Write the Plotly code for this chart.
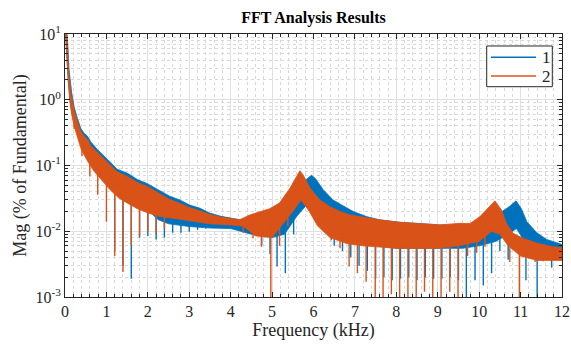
import plotly.graph_objects as go

# ---------------- data ----------------
# Series 1 (blue): upper envelope of the dense spectrum
s1_top_f = [0.0, 0.03, 0.06, 0.10, 0.16, 0.22, 0.30, 0.38, 0.46, 0.54,
            0.62, 0.78, 1.02, 1.26, 1.51, 1.75, 1.99, 2.23, 2.53, 2.77,
            3.01, 3.25, 3.49, 3.74, 3.98, 4.22, 4.46, 4.70, 4.95, 5.20,
            5.45, 5.62, 5.78, 5.95, 6.05, 6.23, 6.47, 6.71, 6.96, 7.28,
            7.60, 8.08, 8.57, 9.05, 9.53, 10.02, 10.26, 10.50, 10.74, 10.89,
            11.02, 11.15, 11.39, 11.63, 11.95, 12.0]
s1_top_v = [14, 12, 8.5, 2.8, 1.3, 0.78, 0.52, 0.37, 0.31, 0.28,
            0.23, 0.175, 0.125, 0.088, 0.076, 0.061, 0.053, 0.043, 0.034, 0.030,
            0.025, 0.0225, 0.019, 0.017, 0.016, 0.015, 0.014, 0.0155, 0.018, 0.024,
            0.032, 0.043, 0.058, 0.071, 0.063, 0.043, 0.030, 0.0245, 0.020, 0.0167,
            0.0149, 0.0137, 0.013, 0.0125, 0.0122, 0.0122, 0.015, 0.019, 0.024, 0.029,
            0.022, 0.014, 0.0095, 0.0075, 0.0064, 0.0063]
# Series 1: lower edge of the band body
s1_low_f = [0.0, 0.04, 0.08, 0.12, 0.16, 0.22, 0.30, 0.40, 0.55, 0.70,
            0.90, 1.10, 1.30, 1.50, 1.75, 2.00, 2.25, 2.50, 3.00, 3.50,
            4.00, 4.50, 5.00, 5.30, 5.60, 5.90, 6.10, 6.40, 6.80, 7.20,
            8.00, 9.00, 9.60, 10.00, 10.40, 10.70, 10.90, 11.10, 11.40, 11.70,
            12.0]
s1_low_v = [14, 7, 2.0, 1.0, 0.7, 0.45, 0.3, 0.19, 0.13, 0.095,
            0.065, 0.048, 0.036, 0.03, 0.025, 0.021, 0.015, 0.013, 0.0118, 0.0112,
            0.011, 0.009, 0.008, 0.009, 0.017, 0.028, 0.022, 0.013, 0.0085, 0.0065,
            0.0055, 0.0055, 0.0055, 0.006, 0.007, 0.009, 0.011, 0.007, 0.0042, 0.0038,
            0.0037]
# Series 1: deep notches (frequency, band level, notch bottom)
s1_dip_f = [1.20, 1.40, 1.60, 1.80, 2.00, 2.20, 2.40, 2.60, 2.80, 3.00,
            3.20, 3.40, 3.60, 3.80, 4.75, 4.95, 5.12, 5.32, 5.52, 6.50,
            6.70, 6.90, 7.10, 7.30, 7.50, 7.70, 7.90, 8.10, 8.30, 8.50,
            8.70, 8.90, 9.10, 9.30, 9.50, 9.69, 9.90, 10.10, 10.30, 10.50,
            10.70, 11.13, 11.40, 11.55, 11.75, 11.95]
s1_dip_hi = [0.055, 0.045, 0.038, 0.032, 0.028, 0.025, 0.022, 0.02, 0.018, 0.017,
             0.016, 0.015, 0.0145, 0.014, 0.011, 0.012, 0.014, 0.016, 0.022, 0.016,
             0.013, 0.011, 0.01, 0.009, 0.008, 0.008, 0.008, 0.008, 0.008, 0.008,
             0.008, 0.008, 0.008, 0.008, 0.008, 0.008, 0.008, 0.009, 0.01, 0.012,
             0.014, 0.01, 0.007, 0.006, 0.0055, 0.005]
s1_dip_lo = [0.005, 0.003, 0.0019, 0.008, 0.0085, 0.0075, 0.008, 0.0095, 0.0095, 0.0098,
             0.0105, 0.011, 0.0115, 0.012, 0.006, 0.0045, 0.0029, 0.0023, 0.009, 0.006,
             0.005, 0.004, 0.003, 0.0025, 0.0019, 0.002, 0.0018, 0.0019, 0.002, 0.0018,
             0.002, 0.0019, 0.0019, 0.002, 0.0018, 0.00095, 0.0018, 0.0015, 0.0023, 0.005,
             0.0037, 0.0018, 0.00095, 0.0035, 0.0028, 0.004]

# Series 2 (orange)
s2_top_f = [0.0, 0.03, 0.05, 0.09, 0.15, 0.22, 0.30, 0.38, 0.46, 0.54,
            0.62, 0.78, 1.02, 1.26, 1.51, 1.75, 1.99, 2.23, 2.50, 2.75,
            3.00, 3.25, 3.50, 3.75, 4.00, 4.22, 4.46, 4.70, 4.94, 5.18,
            5.43, 5.59, 5.67, 5.75, 5.91, 6.15, 6.40, 6.64, 6.88, 7.12,
            7.60, 8.08, 8.57, 9.05, 9.53, 9.78, 10.02, 10.18, 10.38, 10.54,
            10.66, 10.82, 11.06, 11.39, 11.71, 12.0]
s2_top_v = [14, 12, 9, 2.5, 1.15, 0.7, 0.46, 0.33, 0.28, 0.25,
            0.2, 0.158, 0.112, 0.08, 0.068, 0.055, 0.048, 0.039, 0.031, 0.027,
            0.023, 0.0205, 0.018, 0.0165, 0.0155, 0.015, 0.0177, 0.020, 0.022, 0.027,
            0.045, 0.068, 0.083, 0.072, 0.046, 0.030, 0.0236, 0.020, 0.0177, 0.0167,
            0.0149, 0.0137, 0.013, 0.0125, 0.0132, 0.0131, 0.0167, 0.021, 0.029, 0.021,
            0.0131, 0.0093, 0.0078, 0.0066, 0.0059, 0.0056]
s2_low_f = [0.0, 0.04, 0.08, 0.12, 0.16, 0.22, 0.30, 0.40, 0.55, 0.70,
            0.90, 1.10, 1.30, 1.50, 1.75, 2.00, 2.25, 2.50, 3.00, 3.50,
            4.00, 4.30, 4.60, 5.00, 5.30, 5.50, 5.70, 5.90, 6.10, 6.40,
            6.80, 7.20, 8.00, 9.00, 9.50, 10.00, 10.30, 10.50, 10.70, 11.00,
            11.40, 12.0]
s2_low_v = [14, 7, 1.8, 0.9, 0.6, 0.4, 0.27, 0.17, 0.115, 0.082,
            0.058, 0.042, 0.032, 0.027, 0.022, 0.019, 0.017, 0.016, 0.0145, 0.013,
            0.0125, 0.012, 0.0085, 0.008, 0.014, 0.02, 0.03, 0.02, 0.012, 0.008,
            0.0065, 0.006, 0.0055, 0.0055, 0.006, 0.007, 0.01, 0.009, 0.006, 0.0042,
            0.0036, 0.0036]
s2_dip_f = [0.22, 0.41, 0.60, 0.79, 1.00, 1.20, 1.40, 1.60, 1.80, 2.00,
            2.20, 2.40, 4.30, 4.54, 4.74, 4.97, 5.18, 5.38, 6.22, 6.43,
            6.64, 6.86, 7.06, 7.27, 7.49, 7.68, 7.88, 8.08, 8.28, 8.48,
            8.68, 8.88, 9.08, 9.29, 9.49, 9.72, 9.94, 10.14, 10.74, 10.97,
            11.15, 11.35, 11.55, 11.75, 11.95]
s2_dip_hi = [0.5, 0.25, 0.15, 0.1, 0.07, 0.05, 0.04, 0.035, 0.03, 0.027,
             0.024, 0.022, 0.013, 0.013, 0.013, 0.013, 0.016, 0.022, 0.018, 0.013,
             0.011, 0.01, 0.009, 0.008, 0.008, 0.008, 0.008, 0.008, 0.008, 0.008,
             0.008, 0.008, 0.008, 0.008, 0.008, 0.008, 0.009, 0.011, 0.009, 0.006,
             0.0055, 0.005, 0.0048, 0.0046, 0.0045]
s2_dip_lo = [0.36, 0.14, 0.068, 0.036, 0.014, 0.0042, 0.0024, 0.006, 0.0085, 0.010,
             0.009, 0.011, 0.0095, 0.0078, 0.0058, 0.00095, 0.006, 0.012, 0.0118, 0.0073,
             0.0055, 0.0029, 0.0023, 0.0017, 0.00095, 0.00095, 0.0011, 0.00095, 0.001, 0.00095,
             0.0012, 0.00095, 0.001, 0.0012, 0.00095, 0.0042, 0.0047, 0.0058, 0.0034, 0.00095,
             0.0042, 0.0034, 0.0042, 0.0038, 0.0042]

series_names = ["1", "2"]
colors = ["#0072BD", "#D95319"]
x_ticks = [0, 1, 2, 3, 4, 5, 6, 7, 8, 9, 10, 11, 12]
y_ticks = [0.001, 0.01, 0.1, 1, 10]
y_ticktext = ["10<sup>-3</sup>", "10<sup>-2</sup>", "10<sup>-1</sup>",
              "10<sup>0</sup>", "10<sup>1</sup>"]

FONT = "Liberation Serif"
INK = "#262626"

fig = go.Figure()

series = [
    (s1_top_f, s1_top_v, s1_low_f, s1_low_v, s1_dip_f, s1_dip_hi, s1_dip_lo),
    (s2_top_f, s2_top_v, s2_low_f, s2_low_v, s2_dip_f, s2_dip_hi, s2_dip_lo),
]

for (tf, tv, lf, lv, df, dh, dl), name, col in zip(series, series_names, colors):
    fig.add_trace(go.Scatter(
        x=list(tf) + list(lf)[::-1], y=list(tv) + list(lv)[::-1],
        mode="lines", fill="toself", fillcolor=col, name=name,
        line=dict(color=col, width=0.8), hoverinfo="skip", showlegend=False))
    xs, ys = [], []
    for f, h, l in zip(df, dh, dl):
        xs += [f, f, None]
        ys += [h, l, None]
    fig.add_trace(go.Scatter(x=xs, y=ys, mode="lines", name=name,
                             line=dict(color=col, width=1.4),
                             hoverinfo="skip", showlegend=False))

fig.update_xaxes(
    range=[0, 12], tickvals=x_ticks, ticktext=[str(t) for t in x_ticks],
    ticks="inside", ticklen=5, tickcolor=INK, mirror="allticks",
    showline=True, linecolor=INK, linewidth=1, zeroline=False, automargin=False,
    showgrid=True, gridcolor="#e0e0e0", gridwidth=1,
    minor=dict(dtick=0.2, tick0=0, ticks="inside", ticklen=3, tickcolor=INK,
               showgrid=True, gridcolor="#d8d8d8", griddash="dot", gridwidth=1),
    tickfont=dict(family=FONT, size=16, color=INK), ticklabeloverflow="allow",
    title=dict(text="Frequency (kHz)", font=dict(family=FONT, size=18, color=INK),
               standoff=2),
)
fig.update_yaxes(
    type="log", range=[-3, 1], tickvals=y_ticks, ticktext=y_ticktext,
    ticks="inside", ticklen=5, tickcolor=INK, mirror="allticks",
    showline=True, linecolor=INK, linewidth=1, zeroline=False, automargin=False,
    showgrid=True, gridcolor="#e0e0e0", gridwidth=1,
    minor=dict(dtick="D1", ticks="inside", ticklen=3, tickcolor=INK,
               showgrid=True, gridcolor="#d8d8d8", griddash="dot", gridwidth=1),
    tickfont=dict(family=FONT, size=16, color=INK),
    title=dict(text="Mag (% of Fundamental)", font=dict(family=FONT, size=18, color=INK),
               standoff=4),
)

# legend box drawn in the plot's paper coordinates (MATLAB-style compact legend)
leg_shapes = [dict(type="rect", xref="paper", yref="paper",
                   x0=0.8485, x1=0.9805, y0=0.7996, y1=0.9544,
                   line=dict(color=INK, width=1), fillcolor="white", layer="above")]
leg_annots = []
for name, col, ly in zip(series_names, colors, [0.9114, 0.8403]):
    leg_shapes.append(dict(type="line", xref="paper", yref="paper",
                           x0=0.8571, x1=0.9477, y0=ly, y1=ly,
                           line=dict(color=col, width=1.5), layer="above"))
    leg_annots.append(dict(text=name, xref="paper", yref="paper", x=0.9557, y=ly,
                           xanchor="left", yanchor="middle", showarrow=False,
                           font=dict(family=FONT, size=17, color=INK)))

fig.update_layout(
    width=571, height=345,
    margin=dict(l=65, r=9, t=34, b=48),
    paper_bgcolor="white", plot_bgcolor="white",
    title=dict(text="<b>FFT Analysis Results</b>", x=0.5, xref="paper",
               y=1 - 17 / 345, yanchor="middle",
               font=dict(family=FONT, size=16, color="black")),
    shapes=leg_shapes, annotations=leg_annots,
    showlegend=False,
)

fig.write_html("out.html", config={"displayModeBar": False},
               post_script="document.body.style.margin='0';document.body.style.overflow='hidden';")
